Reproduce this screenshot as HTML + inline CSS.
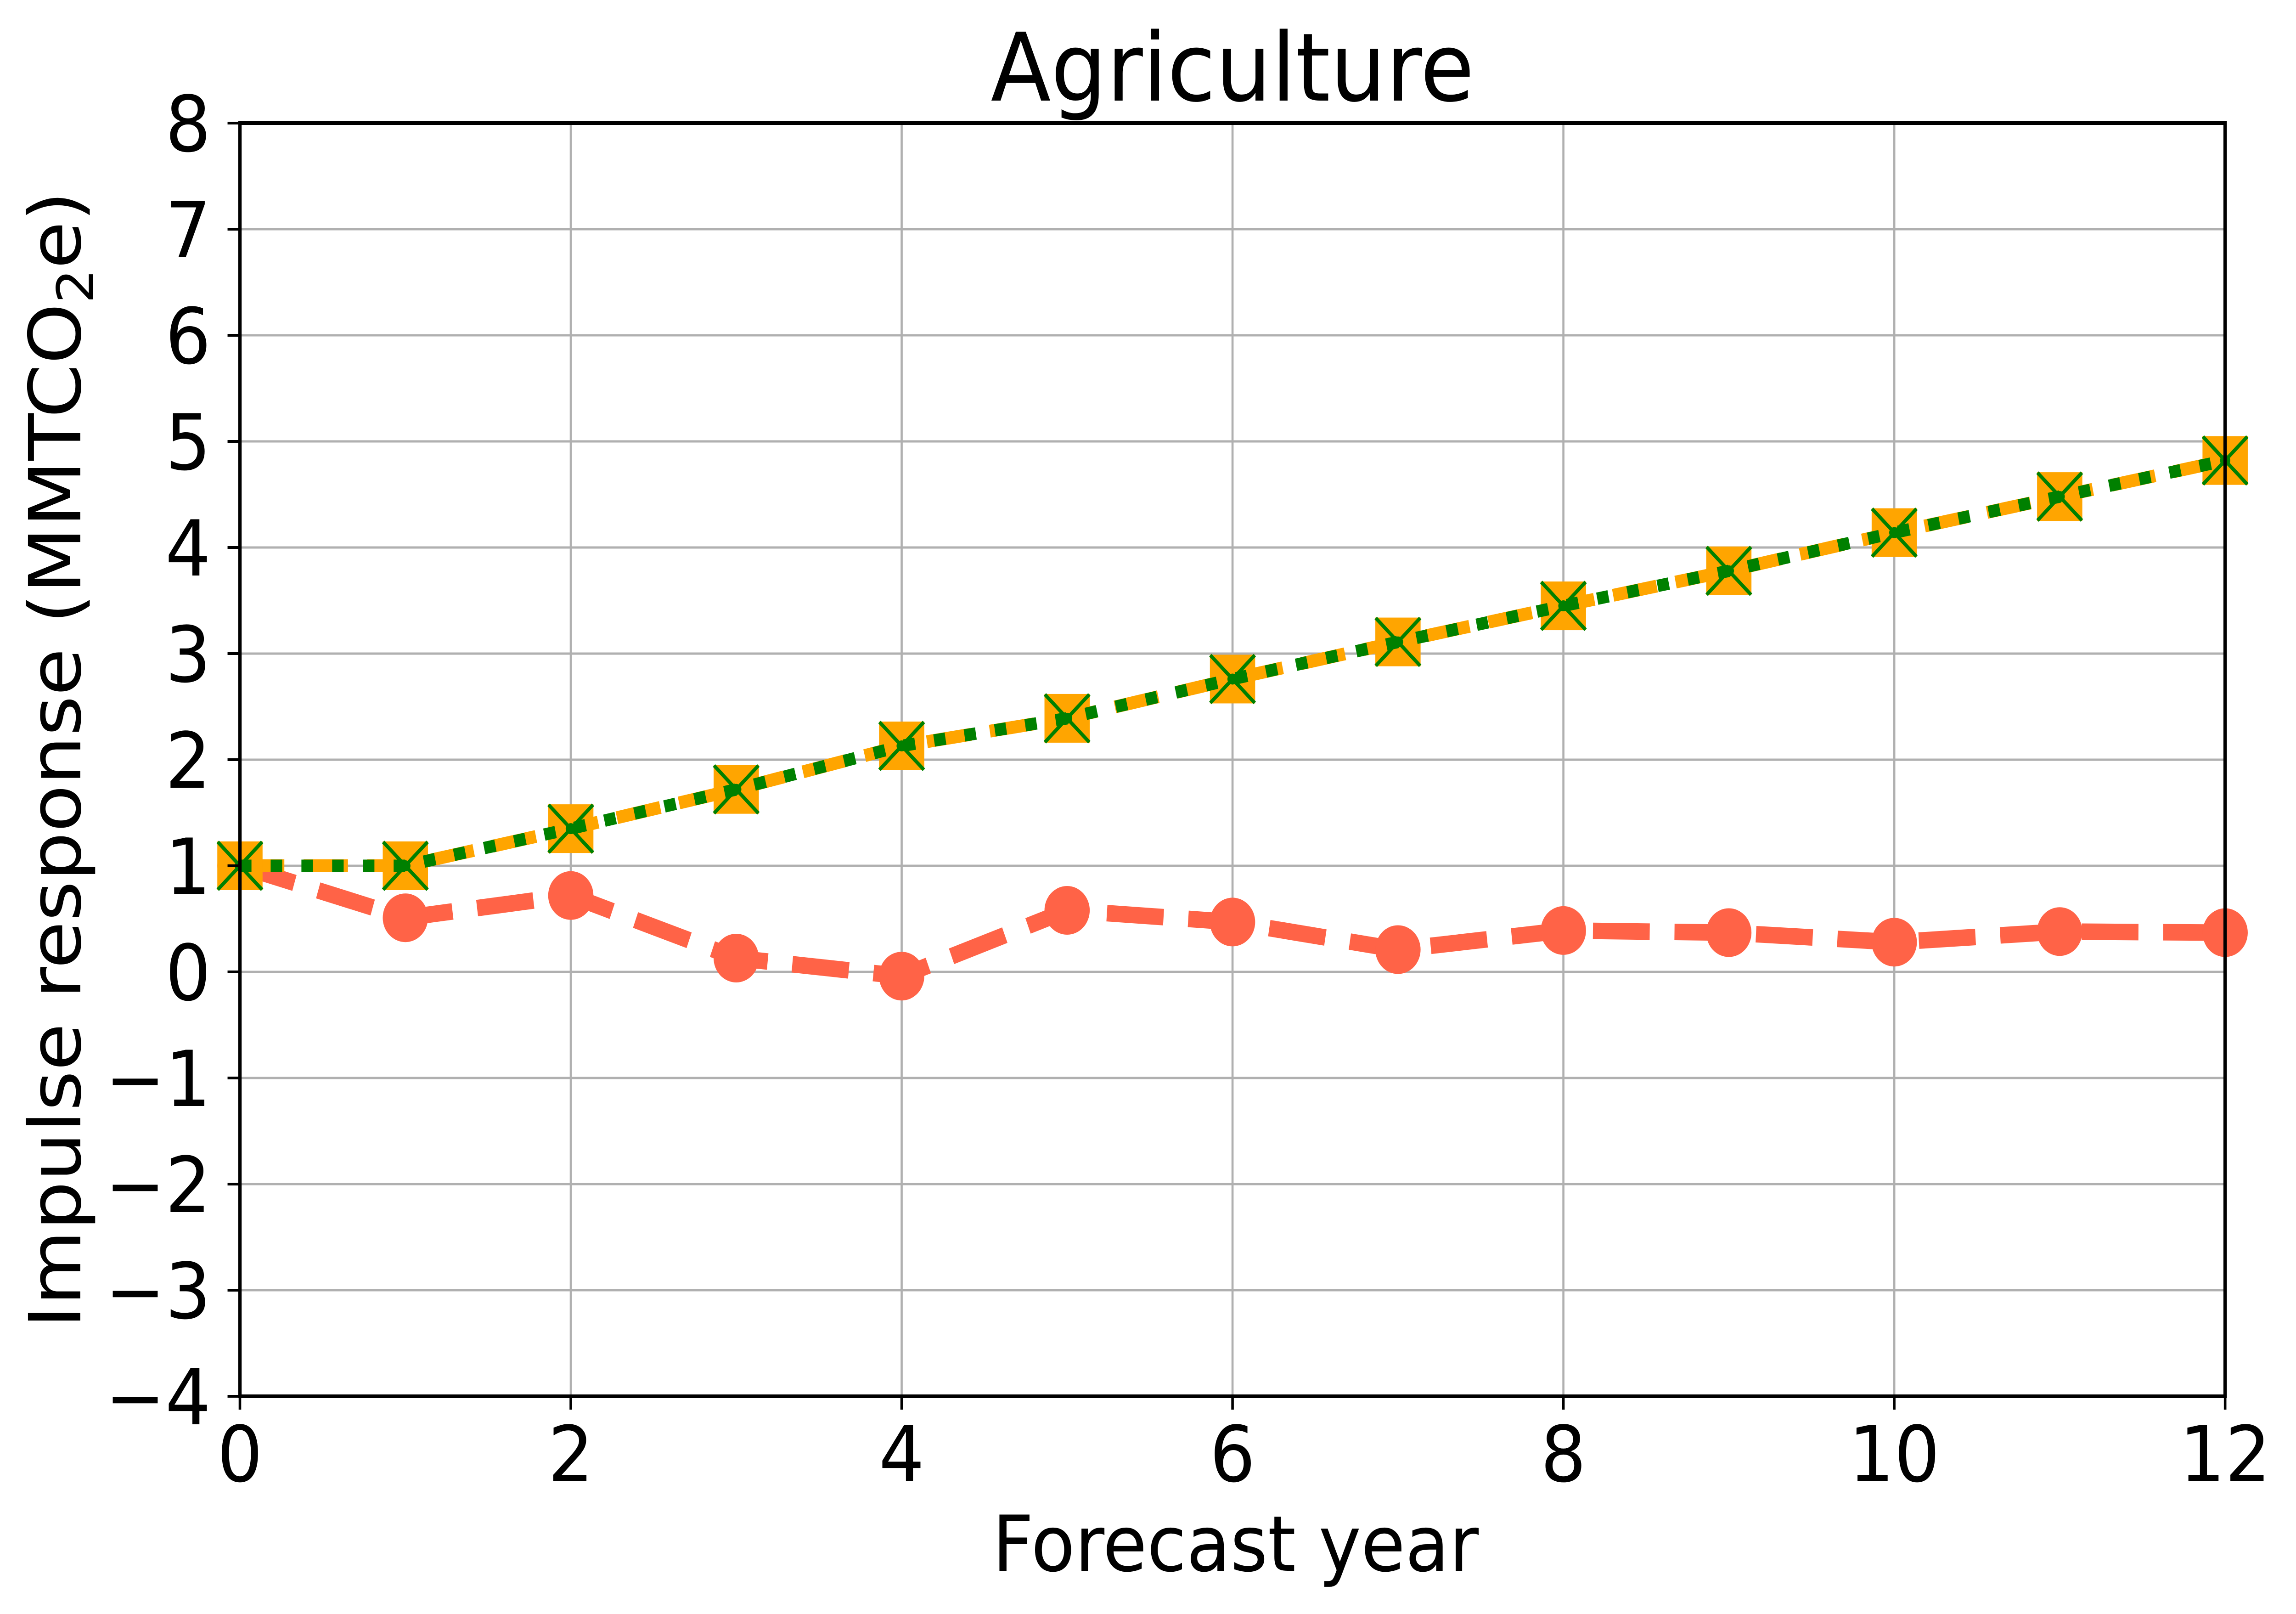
<!DOCTYPE html>
<html><head><meta charset="utf-8">
<style>
html,body{margin:0;padding:0;background:#fff;width:100%;height:100%;overflow:hidden;}
svg{display:block;width:100vw;height:100vh;}
text{font-family:"DejaVu Sans","Liberation Sans",sans-serif;fill:#000;}
</style></head>
<body>
<svg id="chart" viewBox="0 0 5378 3514" preserveAspectRatio="none" xmlns="http://www.w3.org/2000/svg">
<rect width="5378" height="3514" fill="#fff"/>
<g id="grid"></g>
<g id="series"></g>
<rect x="562" y="268" width="4650" height="2772" fill="none" stroke="#000" stroke-width="8"/>
<g id="ticks"></g>
<text x="2887" y="219" font-size="206" text-anchor="middle">Agriculture</text>
<text x="2894" y="3420" font-size="168" text-anchor="middle">Forecast year</text>
<text transform="translate(188,1654) rotate(-90)" font-size="168" text-anchor="middle">Impulse response (MMTCO<tspan font-size="118" dy="30">2</tspan><tspan dy="-30">e)</tspan></text>
</svg>
<script>
const years = [0,1,2,3,4,5,6,7,8,9,10,11,12];
const redValues = [1.0,0.51,0.72,0.13,-0.04,0.58,0.47,0.21,0.39,0.37,0.28,0.38,0.37];
const orangeValues = [1.0,1.0,1.35,1.72,2.13,2.39,2.76,3.11,3.45,3.78,4.14,4.48,4.82];
const greenValues = [1.0,1.0,1.35,1.72,2.13,2.39,2.76,3.11,3.45,3.78,4.14,4.48,4.82];
const xTicks = [0,2,4,6,8,10,12];
const yTicks = [-4,-3,-2,-1,0,1,2,3,4,5,6,7,8];

const NS = 'http://www.w3.org/2000/svg';
const X0=562, X1=5212, Y0=3040, Y1=268, XMIN=0, XMAX=12, YMIN=-4, YMAX=8;
function xs(v){return X0+(v-XMIN)/(XMAX-XMIN)*(X1-X0);}
function ys(v){return Y0-(v-YMIN)/(YMAX-YMIN)*(Y0-Y1);}
function mk(tag, attrs, parent){const e=document.createElementNS(NS,tag);for(const k in attrs)e.setAttribute(k,attrs[k]);parent.appendChild(e);return e;}

const grid=document.getElementById('grid');
const ticks=document.getElementById('ticks');
xTicks.forEach(t=>{
  const g=mk('line',{x1:xs(t),x2:xs(t),y1:Y1,y2:Y0,stroke:'#b0b0b0','stroke-width':5},grid);
  
  
  const tk=mk('line',{x1:xs(t),x2:xs(t),y1:Y0,y2:Y0+29,stroke:'#000','stroke-width':6},ticks);
  
  
  const lb=mk('text',{x:xs(t),y:3225,'font-size':168,'text-anchor':'middle'},ticks);
  lb.textContent=String(t);
  
  
});
yTicks.forEach(t=>{
  const g=mk('line',{x1:X0,x2:X1,y1:ys(t),y2:ys(t),stroke:'#b0b0b0','stroke-width':5},grid);
  
  
  const tk=mk('line',{x1:X0-29,x2:X0,y1:ys(t),y2:ys(t),stroke:'#000','stroke-width':6},ticks);
  
  
  const lb=mk('text',{x:494,y:ys(t)+61,'font-size':168,'text-anchor':'end'},ticks);
  lb.textContent=(t<0?'\u2212'+Math.abs(t):String(t));
  
  
});

const series=document.getElementById('series');
function pts(vals){return years.map((x,i)=>xs(x)+','+ys(vals[i])).join(' ');}

const redLine=mk('polyline',{points:pts(redValues),fill:'none',stroke:'#ff6347','stroke-width':36,'stroke-dasharray':'133,58'},series);


years.forEach((x,i)=>{
  const c=mk('circle',{cx:xs(x),cy:ys(redValues[i]),r:53,fill:'#ff6347'},series);
  
  
});
const orLine=mk('polyline',{points:pts(orangeValues),fill:'none',stroke:'#ffa500','stroke-width':28,'stroke-dasharray':'104,45'},series);


years.forEach((x,i)=>{
  const r=mk('rect',{x:xs(x)-53,y:ys(orangeValues[i])-53,width:106,height:106,fill:'#ffa500'},series);
  
  
});
const grLine=mk('polyline',{points:pts(greenValues),fill:'none',stroke:'#008000','stroke-width':27,'stroke-dasharray':'27,45'},series);


years.forEach((x,i)=>{
  const cx=xs(x), cy=ys(greenValues[i]), h=52;
  const p=mk('path',{d:`M${cx-h},${cy-h}L${cx+h},${cy+h}M${cx-h},${cy+h}L${cx+h},${cy-h}`,stroke:'#008000','stroke-width':8,fill:'none'},series);
  
  
  const d=mk('circle',{cx:cx,cy:cy,r:12,fill:'#008000'},series);
  
  
});
</script>
</body></html>
